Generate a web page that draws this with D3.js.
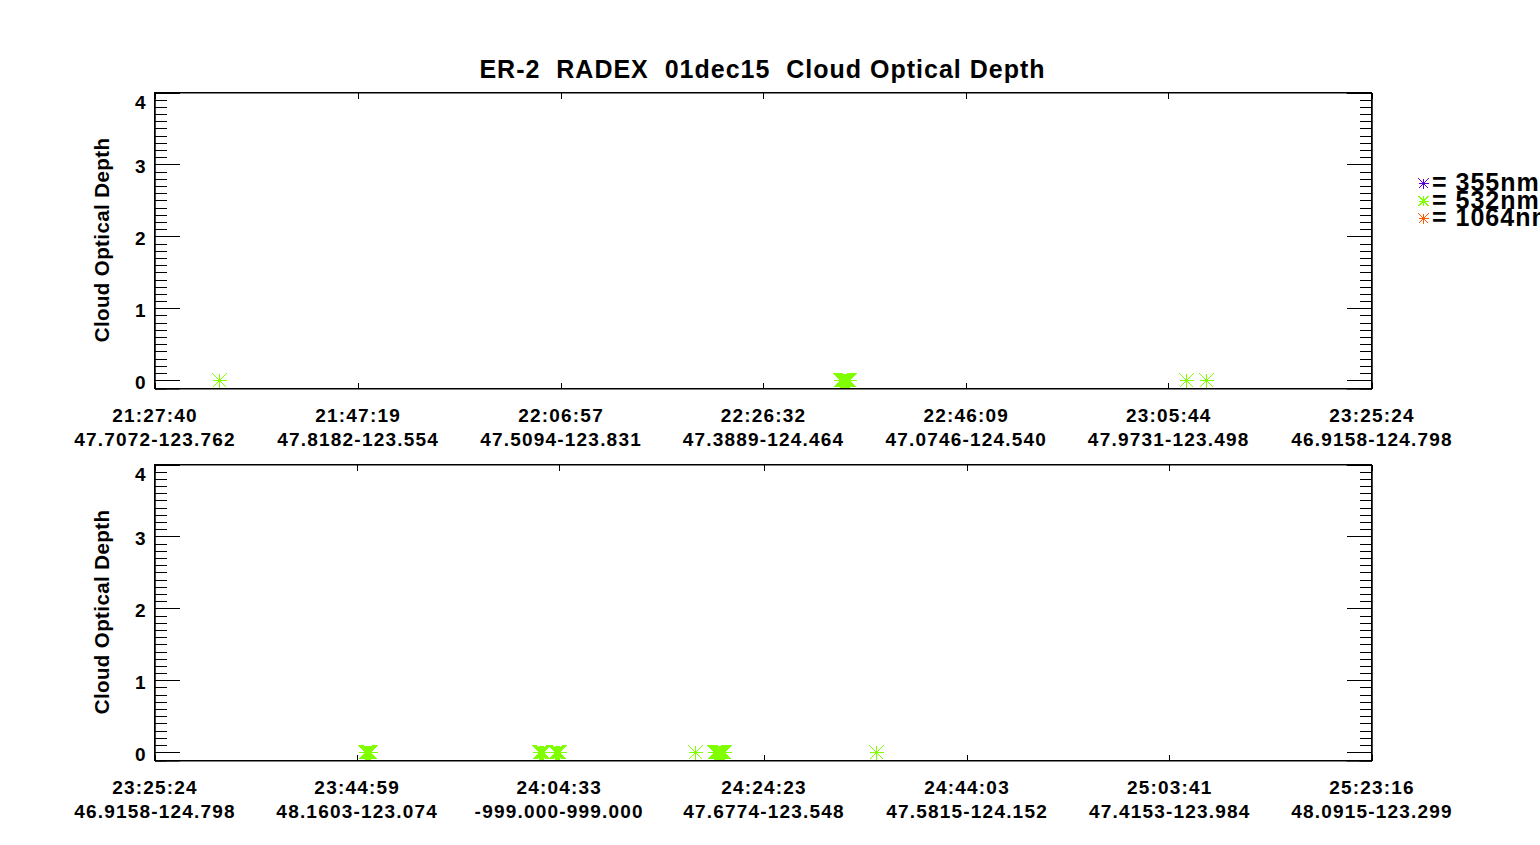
<!DOCTYPE html>
<html>
<head>
<meta charset="utf-8">
<script src="https://cdn.jsdelivr.net/npm/d3@7"></script>
<style>
  body { margin: 0; background: #fff; }
  svg { display: block; }
  text { font-family: "Liberation Sans", Arial, sans-serif; font-weight: bold; fill: #000; white-space: pre; }
</style>
</head>
<body>
<div id="chart"></div>
<script>
// chart data
const chartTitle = "ER-2  RADEX  01dec15  Cloud Optical Depth";
const yTitle = "Cloud Optical Depth";
const yTicks = [0, 1, 2, 3, 4];

const topTickTimes = ["21:27:40", "21:47:19", "22:06:57", "22:26:32", "22:46:09", "23:05:44", "23:25:24"];
const topTickCoords = ["47.7072-123.762", "47.8182-123.554", "47.5094-123.831", "47.3889-124.464",
                       "47.0746-124.540", "47.9731-123.498", "46.9158-124.798"];
const bottomTickTimes = ["23:25:24", "23:44:59", "24:04:33", "24:24:23", "24:44:03", "25:03:41", "25:23:16"];
const bottomTickCoords = ["46.9158-124.798", "48.1603-123.074", "-999.000-999.000", "47.6774-123.548",
                          "47.5815-124.152", "47.4153-123.984", "48.0915-123.299"];

const wavelengths = ["355nm", "532nm", "1064nm"];
const waveColors = ["#5a00dc", "#80ff00", "#ff5a00"];

// 532nm optical depth samples (time, value); 355nm and 1064nm have none
const top532Times = ["21:33:57",
  "22:34:02", "22:34:08", "22:34:13", "22:34:19", "22:34:25", "22:34:31", "22:34:37", "22:34:43", "22:34:48", "22:34:54",
  "23:07:30", "23:09:26"];
const top532Values = [0, 0, 0, 0, 0, 0, 0, 0, 0, 0, 0, 0, 0];
const bottom532Times = [
  "23:45:50", "23:45:56", "23:46:02", "23:46:08", "23:46:13", "23:46:19",
  "24:02:41", "24:02:47", "24:02:53", "24:02:59", "24:03:05",
  "24:04:14", "24:04:20", "24:04:26", "24:04:32", "24:04:37",
  "24:17:48",
  "24:19:38", "24:19:44", "24:19:50", "24:19:56", "24:20:01", "24:20:07", "24:20:13", "24:20:19", "24:20:25", "24:20:30", "24:20:36",
  "24:35:20"];
const bottom532Values = bottom532Times.map(() => 0);

const width = 1540, height = 845;
const plotLeft = 154, plotRight = 1371;

// "HH:MM:SS" -> seconds (hours may go past 24)
function toSec(s) {
  const p = s.split(":").map(Number);
  return p[0] * 3600 + p[1] * 60 + p[2];
}

const svg = d3.select("#chart").append("svg")
    .attr("width", width)
    .attr("height", height);

svg.append("rect").attr("width", width).attr("height", height).attr("fill", "#fff");

svg.append("text")
    .attr("x", (plotLeft + plotRight) / 2)
    .attr("y", 78)
    .attr("text-anchor", "middle")
    .attr("font-size", "25px")
    .attr("letter-spacing", "1px")
    .text(chartTitle);

// asterisk marker like IDL psym=2
function asterisk(r) {
  return `M${-r},0H${r}M0,${-r}V${r}M${-r},${-r}L${r},${r}M${-r},${r}L${r},${-r}`;
}

function drawPanel(top, bottom, tickTimes, tickCoords, times, values) {
  const g = svg.append("g");

  const xScale = d3.scaleLinear()
      .domain([toSec(tickTimes[0]), toSec(tickTimes[tickTimes.length - 1])])
      .range([plotLeft, plotRight]);
  const yScale = d3.scaleLinear()
      .domain([-0.115, 4])
      .range([bottom, top]);

  const minor = d3.range(0, 41).map(d => d / 10).filter(d => d % 1 !== 0);
  const tickVals = tickTimes.map(toSec);

  // frame
  g.append("rect")
      .attr("x", plotLeft + 0.5).attr("y", top + 0.5)
      .attr("width", plotRight - plotLeft).attr("height", bottom - top)
      .attr("fill", "none").attr("stroke", "#000").attr("stroke-width", 1)
      .attr("shape-rendering", "crispEdges");

  // y axes, left with labels, right without
  const yl = g.append("g").attr("transform", `translate(${plotLeft + 0.5},0.5)`)
      .call(d3.axisLeft(yScale).tickValues(yTicks).tickSize(-25).tickPadding(9).tickFormat(d3.format("d")));
  g.append("g").attr("transform", `translate(${plotLeft + 0.5},0.5)`)
      .call(d3.axisLeft(yScale).tickValues(minor).tickSize(-12).tickFormat(""));
  g.append("g").attr("transform", `translate(${plotRight + 0.5},0.5)`)
      .call(d3.axisRight(yScale).tickValues(yTicks).tickSize(-25).tickFormat(""));
  g.append("g").attr("transform", `translate(${plotRight + 0.5},0.5)`)
      .call(d3.axisRight(yScale).tickValues(minor).tickSize(-12).tickFormat(""));

  yl.selectAll(".tick text")
      .attr("font-size", "19px")
      .attr("font-family", null)
      .attr("dy", d => d === 4 ? "0.85em" : "0.42em");

  // x axes
  const xb = g.append("g").attr("transform", `translate(0.5,${bottom + 0.5})`)
      .call(d3.axisBottom(xScale).tickValues(tickVals).tickSize(-6).tickFormat(""));
  g.append("g").attr("transform", `translate(0.5,${top + 0.5})`)
      .call(d3.axisTop(xScale).tickValues(tickVals).tickSize(-6).tickFormat(""));

  // two-line labels under each tick: time then lat-lon
  xb.selectAll(".tick").each(function(d, i) {
    const t = d3.select(this).append("text")
        .attr("text-anchor", "middle")
        .attr("font-size", "19px")
        .attr("letter-spacing", "1.2px")
        .attr("fill", "#000");
    t.append("tspan").attr("x", 0).attr("y", 33).text(tickTimes[i]);
    t.append("tspan").attr("x", 0).attr("y", 57).text(tickCoords[i]);
  });

  g.selectAll(".domain").attr("stroke", "#000");
  g.selectAll(".tick line").attr("stroke", "#000").attr("shape-rendering", "crispEdges");

  // y title
  g.append("text")
      .attr("transform", `translate(109,${(top + bottom) / 2}) rotate(-90)`)
      .attr("text-anchor", "middle")
      .attr("font-size", "20.5px")
      .attr("letter-spacing", "0.4px")
      .text(yTitle);

  // points
  const pts = times.map((t, i) => ({ t: toSec(t), v: values[i] }));
  g.selectAll("path.pt")
      .data(pts)
      .enter()
      .append("path")
        .attr("class", "pt")
        .attr("transform", d => `translate(${Math.round(xScale(d.t)) + 0.5},${Math.round(yScale(d.v)) + 0.5})`)
        .attr("d", asterisk(7))
        .attr("fill", "none")
        .attr("stroke", waveColors[1])
        .attr("stroke-width", 1)
        .attr("shape-rendering", "crispEdges");
}

drawPanel(92, 388, topTickTimes, topTickCoords, top532Times, top532Values);
drawPanel(464, 760, bottomTickTimes, bottomTickCoords, bottom532Times, bottom532Values);

// legend (overlapping lines and clipped at the right edge, as in the reference)
const legend = svg.append("g");
wavelengths.forEach((w, i) => {
  legend.append("path")
      .attr("transform", `translate(1423.5,${183.5 + i * 17.5})`)
      .attr("d", asterisk(5))
      .attr("fill", "none")
      .attr("stroke", waveColors[i])
      .attr("stroke-width", 1)
      .attr("shape-rendering", "crispEdges");
  legend.append("text")
      .attr("x", 1432)
      .attr("y", 191 + i * 17.5)
      .attr("font-size", "25px")
      .attr("letter-spacing", "1px")
      .text("= " + w);
});
</script>
</body>
</html>
